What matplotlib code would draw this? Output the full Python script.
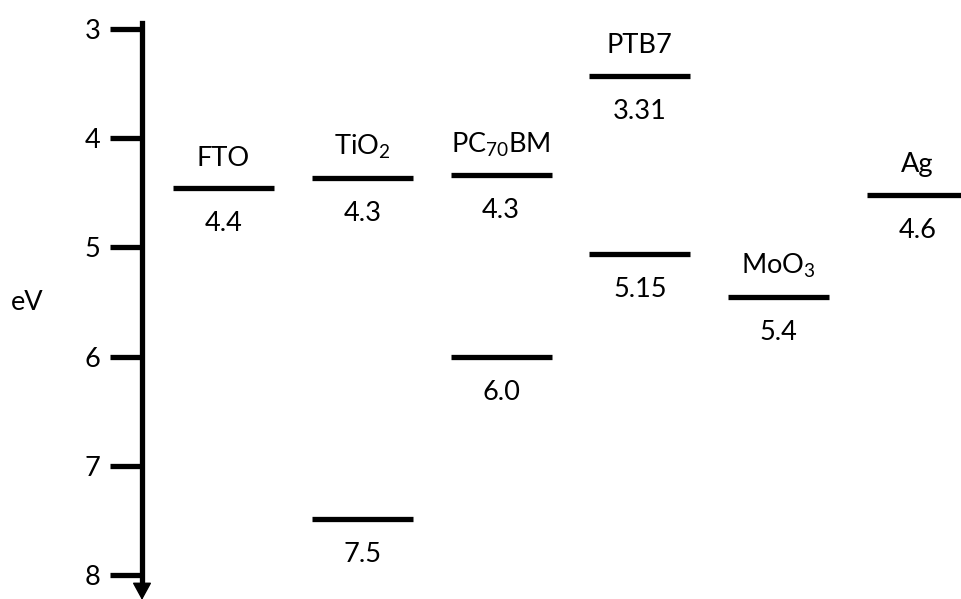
import matplotlib
matplotlib.use("Agg")
import matplotlib.pyplot as plt

plt.rcParams['font.family'] = ['Lato', 'DejaVu Sans']
plt.rcParams['mathtext.fontset'] = 'custom'
plt.rcParams['mathtext.rm'] = 'Lato'
plt.rcParams['mathtext.it'] = 'Lato:italic'

# materials, one column each
materials = ['FTO', 'TiO$_2$', 'PC$_{70}$BM', 'PTB7', 'MoO$_3$', 'Ag']

# energy levels as drawn (eV), the column they belong to and their printed value
level_col = [0, 1, 1, 2, 2, 3, 3, 4, 5]
level_ev = [4.46, 4.36, 7.49, 4.34, 6.00, 3.43, 5.06, 5.45, 4.52]
level_txt = ['4.4', '4.3', '7.5', '4.3', '6.0', '3.31', '5.15', '5.4', '4.6']

yticks = [3, 4, 5, 6, 7, 8]

W, H = 961, 599
fig = plt.figure(figsize=(W / 100, H / 100), dpi=100)
ax = fig.add_axes([142 / W, 0, 1 - 142 / W, 1])

# pixel -> data mapping
px_per_ev = 109.2
ax.set_ylim(3 + (H - 29) / px_per_ev, 3 - 29 / px_per_ev)
col_step = 138.8
ax.set_xlim((142 - 223.5) / col_step, (W - 223.5) / col_step)
half = 50.5 / col_step

ax.hlines(level_ev, [c - half for c in level_col], [c + half for c in level_col],
          colors='black', lw=3.8)

for c, e, t in zip(level_col, level_ev, level_txt):
    ax.annotate(t, (c, e), xytext=(0, -31), textcoords='offset points',
                ha='center', va='baseline', fontsize=19.5)

# name above the top level of each column
for i, name in enumerate(materials):
    top = min(e for c, e in zip(level_col, level_ev) if c == i)
    ax.annotate(name, (i, top), xytext=(0, 16.2), textcoords='offset points',
                ha='center', va='baseline', fontsize=19.5)

# energy axis
for s in ['top', 'right', 'bottom']:
    ax.spines[s].set_visible(False)
ax.spines['left'].set_linewidth(3.8)
ax.spines['left'].set_bounds(3 - 6 / px_per_ev, 8 + 12 / px_per_ev)
x0 = ax.get_xlim()[0]
ax.annotate('', xy=(x0, 8 + 25 / px_per_ev), xytext=(x0, 8 + 9 / px_per_ev),
            arrowprops=dict(arrowstyle='-|>,head_length=0.55,head_width=0.3',
                            mutation_scale=20, lw=1, color='black',
                            shrinkA=0, shrinkB=0),
            annotation_clip=False)

ax.set_yticks(yticks)
ax.set_yticklabels([str(v) for v in yticks])
ax.tick_params(axis='y', direction='out', length=23, width=3.8, pad=7,
               labelsize=19.5)
ax.set_xticks([])

fig.text(27 / W, 1 - 303 / H, 'eV', ha='center', va='center', fontsize=19.5)

fig.savefig('out.png', dpi=100)
